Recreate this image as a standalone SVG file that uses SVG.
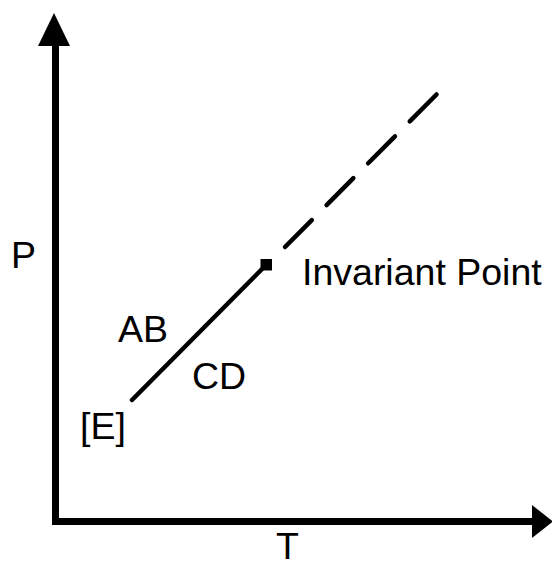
<svg xmlns="http://www.w3.org/2000/svg" width="552" height="567" viewBox="0 0 552 567">
<style>
text { font-family: "Liberation Sans", Arial, sans-serif; font-size: 37.5px; fill: #000; }
.axis { fill: none; stroke: #000; stroke-width: 7; stroke-linejoin: miter; }
.line { fill: none; stroke: #000; stroke-width: 4.5; stroke-linecap: round; }
</style>
<rect width="552" height="567" fill="#fff"/>
<g id="axes">
<path class="axis" d="M55.5,44 V521.5 H534"/>
<polygon points="54,13 38,46 70,46" fill="#000"/>
<polygon points="553,521.5 532,505 532,538" fill="#000"/>
<text x="11" y="268">P</text>
<text x="276" y="559">T</text>
</g>
<g id="connectors">
<line class="line" x1="132" y1="400" x2="266" y2="265"/>
<line class="line" x1="285" y1="247" x2="437" y2="94" stroke-dasharray="38 21" stroke-linecap="butt"/>
</g>
<g id="invariant-point">
<rect x="260.5" y="259" width="11.5" height="11.5" fill="#000"/>
<text x="302" y="285">Invariant Point</text>
</g>
<g id="label-AB"><text x="118" y="342">AB</text></g>
<g id="label-CD"><text x="192" y="389">CD</text></g>
<g id="label-E"><text x="80" y="438.5">[E]</text></g>
</svg>
